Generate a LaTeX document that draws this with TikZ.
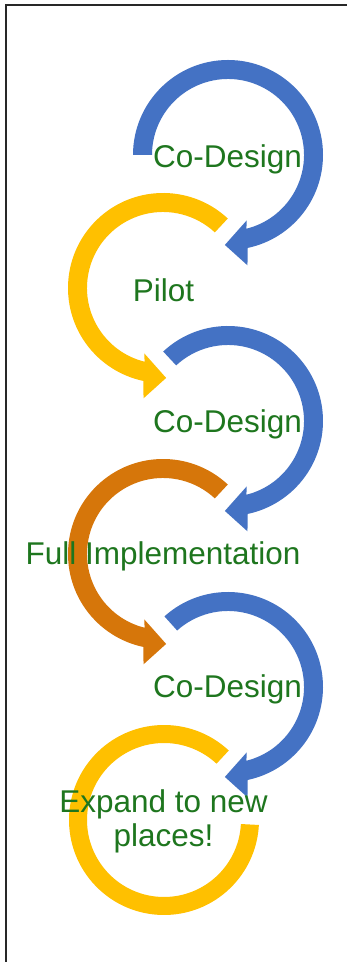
\documentclass[tikz,border=0pt]{standalone}
\usepackage{fontspec}
\setmainfont{Liberation Sans}
\definecolor{cblue}{RGB}{68,114,196}
\definecolor{cyellow}{RGB}{255,192,0}
\definecolor{corange}{RGB}{214,118,10}
\definecolor{txtgreen}{RGB}{30,118,30}
\definecolor{framegray}{RGB}{40,40,40}
\newcommand\cwArrow[4]{%
  \begin{scope}[shift={(#1,#2)}]
    \fill[#4] (#3:95) arc[start angle=#3, end angle=-78, radius=95]
      -- (-80:112) -- (-92:90) -- (-74:68) -- (-76:76)
      arc[start angle=-76, end angle=#3, radius=76] -- cycle;
  \end{scope}}
\newcommand\ccwArrow[4]{%
  \begin{scope}[shift={(#1,#2)}]
    \fill[#4] (#3:95) arc[start angle=#3, end angle=258, radius=95]
      -- (260:112) -- (272:90) -- (254:68) -- (256:76)
      arc[start angle=256, end angle=#3, radius=76] -- cycle;
  \end{scope}}
\begin{document}
\begin{tikzpicture}[x=1bp,y=1bp,
  lbl/.style={text=txtgreen, font=\fontsize{31.6}{36}\selectfont, inner sep=0pt, anchor=base},
  frameline/.style={line width=2.6bp, draw=framegray}]
\useasboundingbox (0,0) rectangle (347,962);
\fill[white] (0,0) rectangle (347,962);
\draw[frameline] (6,0) -- (6,957) -- (347,957);
% arcs
\cwArrow{228}{807}{180}{cblue}
\ccwArrow{163}{674}{47}{cyellow}
\cwArrow{228}{541}{133}{cblue}
\ccwArrow{163}{408}{47}{corange}
\cwArrow{228}{275}{132}{cblue}
\begin{scope}[shift={(164,142)}]
  \fill[cyellow] (47:95) arc[start angle=47, end angle=357, radius=95]
    -- (357:77) arc[start angle=357, end angle=47, radius=77] -- cycle;
\end{scope}
% labels
\node[lbl] (cd1) at (227.5,794) {Co-Design};
\node[lbl] (pilot) at (163.5,660) {Pilot};
\node[lbl] (cd2) at (227.5,529) {Co-Design};
\node[lbl] (full) at (163,397) {Full Implementation};
\node[lbl] (cd3) at (227.5,264) {Co-Design};
\node[lbl] (exp1) at (163.5,149) {Expand to new};
\node[lbl] (exp2) at (163.5,115) {places!};
\end{tikzpicture}
\end{document}
